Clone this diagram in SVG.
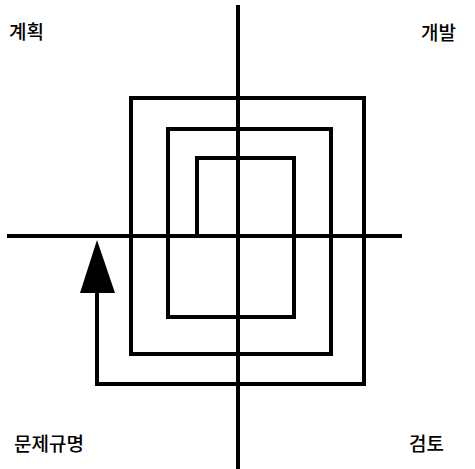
<svg xmlns="http://www.w3.org/2000/svg" width="475" height="469" viewBox="0 0 475 469">
<style>
.ln{fill:none;stroke:#000;stroke-width:4;stroke-linejoin:miter;stroke-linecap:square}
.lb{font-family:"Noto Sans CJK KR","Noto Sans",sans-serif;font-size:19px;font-weight:500;fill:#000}
</style>
<rect width="475" height="469" fill="#fff"/>
<g id="connectors">
<line id="axis-h" class="ln" x1="9" y1="236" x2="400" y2="236"/>
<line id="axis-v" class="ln" x1="238" y1="7" x2="238" y2="469"/>
<polyline id="spiral" class="ln" points="197,236 197,158 294,158 294,317 168,317 168,129 331,129 331,354 131,354 131,98 364,98 364,384 97,384 97,290"/>
<polygon id="arrowhead" points="97,240 80,293 115,293" fill="#000"/>
</g>
<g id="plan"><text class="lb" x="9" y="39">계획</text></g>
<g id="dev"><text class="lb" x="421" y="40">개발</text></g>
<g id="define"><text class="lb" x="14" y="451">문제규명</text></g>
<g id="review"><text class="lb" x="409" y="451">검토</text></g>
</svg>
